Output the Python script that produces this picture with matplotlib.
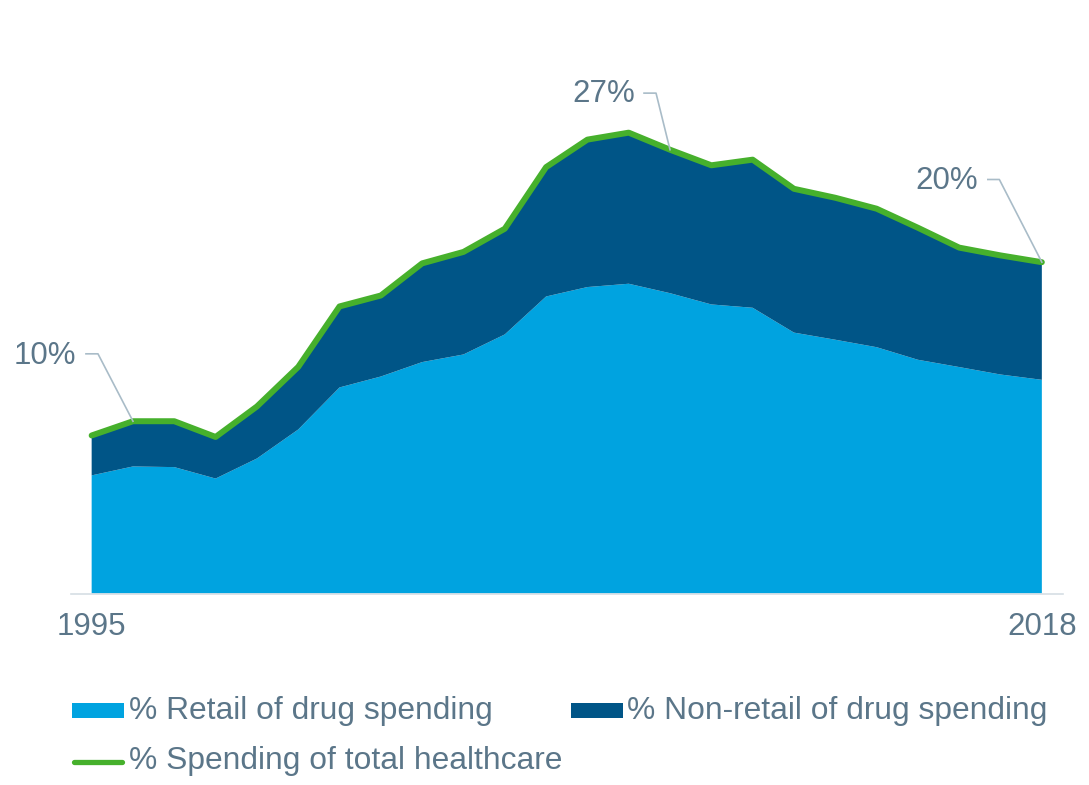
import matplotlib
matplotlib.use("Agg")
import matplotlib.pyplot as plt
from matplotlib.lines import Line2D
from matplotlib.patches import Rectangle
import numpy as np

years = list(range(1995, 2019))
total_pct = [9.54, 10.40, 10.40, 9.45, 11.29, 13.68, 17.33, 17.99, 19.93, 20.62,
             22.02, 25.74, 27.40, 27.82, 26.79, 25.85, 26.19, 24.43, 23.89, 23.23,
             22.08, 20.88, 20.41, 20.00]
retail_pct = [7.13, 7.67, 7.63, 6.94, 8.15, 9.90, 12.44, 13.10, 13.97, 14.43,
              15.64, 17.93, 18.50, 18.70, 18.13, 17.45, 17.25, 15.75, 15.32, 14.87,
              14.11, 13.67, 13.22, 12.90]
nonretail_pct = [t - r for t, r in zip(total_pct, retail_pct)]
tick_years = [1995, 2018]
tick_labels = ["1995", "2018"]
annot_years = [1996, 2009, 2018]
annot_labels = ["10%", "27%", "20%"]

C_RETAIL = "#00a3e0"
C_NONRET = "#005587"
C_GREEN = "#46b02c"
C_TEXT = "#5b7689"
C_LEAD = "#a9bcc8"
FS = 22.5
FS_LEG = 22.9

W, H = 1089, 785
fig = plt.figure(figsize=(W / 100, H / 100), dpi=100)
plt.rcParams['font.family'] = ['Liberation Sans', 'DejaVu Sans']

ax_l, ax_r, ax_b, ax_t = 71, 1062.5, 593.5, 40
ax = fig.add_axes([ax_l / W, 1 - ax_b / H, (ax_r - ax_l) / W, (ax_b - ax_t) / H])
ax.set_xlim(1994.5, 2018.5)
ax.set_ylim(0, (ax_b - ax_t) / 16.565)

ax.stackplot(years, retail_pct, nonretail_pct, colors=[C_RETAIL, C_NONRET], lw=0)
ax.plot(years, total_pct, color=C_GREEN, lw=4.3, solid_capstyle='round',
        solid_joinstyle='round', zorder=5)

for s in ["top", "left", "right"]:
    ax.spines[s].set_visible(False)
ax.spines["bottom"].set_color("#d6dee4")
ax.spines["bottom"].set_linewidth(1.2)
ax.set_yticks([])
ax.set_xticks(tick_years)
ax.set_xticklabels(tick_labels, fontsize=FS, color=C_TEXT)
ax.tick_params(axis='x', length=0, pad=13)

# annotations (pixel offsets from the data point: elbow, line end, text anchor)
offsets = {
    1996: ((-35, 67.4), (-47, 67.4), (-57, 65.5), 'right'),
    2009: ((-14, 56.6), (-26, 56.6), (-35, 56.0), 'right'),
    2018: ((-42.5, 82.7), (-54, 82.7), (-64, 81.5), 'right'),
}
fig.canvas.draw()
for yr, lab in zip(annot_years, annot_labels):
    v = total_pct[years.index(yr)]
    px, py = ax.transData.transform((yr, v))
    (ex, ey), (hx, hy), (tx, ty), ha = offsets[yr]
    xs = [px, px + ex, px + hx]
    ys = [py, py + ey, py + hy]
    fig.add_artist(Line2D([x / W for x in xs], [y / H for y in ys],
                          transform=fig.transFigure, color=C_LEAD, lw=1.2, zorder=6))
    fig.text((px + tx) / W, (py + ty) / H, lab, ha=ha, va='center',
             fontsize=FS, color=C_TEXT)

# legend (manual)
def fy(y):
    return 1 - y / H

fig.add_artist(Rectangle((72 / W, fy(718)), 52 / W, 15 / H, transform=fig.transFigure,
                         color=C_RETAIL, lw=0))
fig.text(129 / W, fy(711.5), "% Retail of drug spending", fontsize=FS_LEG, color=C_TEXT,
         va='center', ha='left')
fig.add_artist(Rectangle((571 / W, fy(718)), 52 / W, 15 / H, transform=fig.transFigure,
                         color=C_NONRET, lw=0))
fig.text(627 / W, fy(711.5), "% Non-retail of drug spending", fontsize=FS_LEG, color=C_TEXT,
         va='center', ha='left')
fig.add_artist(Line2D([74 / W, 122 / W], [fy(761.5), fy(761.5)], transform=fig.transFigure,
                      color=C_GREEN, lw=3.8, solid_capstyle='round'))
fig.text(129 / W, fy(761.5), "% Spending of total healthcare", fontsize=FS_LEG, color=C_TEXT,
         va='center', ha='left')

fig.savefig("out.png", dpi=100)
